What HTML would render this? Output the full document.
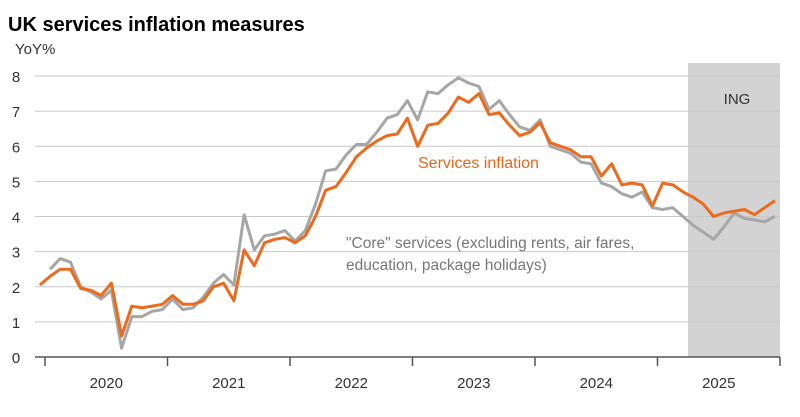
<!DOCTYPE html>
<html><head><meta charset="utf-8"><style>
body{margin:0;background:#fff;font-family:"Liberation Sans",sans-serif}
svg text{font-family:"Liberation Sans",sans-serif}
</style></head><body>
<svg width="800" height="412">
<text x="8" y="31" font-size="20" font-weight="bold" fill="#000">UK services inflation measures</text>
<text x="15" y="54" font-size="15" fill="#333">YoY%</text>
<rect x="688" y="63" width="92" height="294" fill="#d3d3d3"/>
<text x="737" y="104" font-size="15" fill="#333" text-anchor="middle">ING</text>
<g id="grid"></g>
<g id="axes"></g>
<text x="418" y="168" font-size="16" fill="#e8661c">Services inflation</text>
<text x="346" y="248" font-size="15.5" fill="#777">"Core" services (excluding rents, air fares,</text>
<text x="346" y="270" font-size="15.5" fill="#777">education, package holidays)</text>
<g id="series"></g>
</svg>
<script>
const yTicks=[0,1,2,3,4,5,6,7,8];
const years=["2020","2021","2022","2023","2024","2025"];
// monthly, Dec 2019 .. Dec 2025
const services=[2.05,2.3,2.5,2.5,1.95,1.9,1.75,2.1,0.6,1.45,1.4,1.45,1.5,1.75,1.5,1.5,1.6,2.0,2.1,1.6,3.05,2.6,3.25,3.35,3.4,3.25,3.45,4.0,4.75,4.85,5.25,5.7,5.95,6.15,6.3,6.35,6.8,6.0,6.6,6.65,6.95,7.4,7.25,7.5,6.9,6.95,6.6,6.3,6.4,6.67,6.1,6.0,5.9,5.7,5.7,5.15,5.5,4.9,4.95,4.9,4.3,4.95,4.9,4.7,4.55,4.35,4.0,4.1,4.15,4.2,4.05,4.25,4.45];
// monthly, Jan 2020 .. Dec 2025
const core=[2.5,2.8,2.7,2.0,1.85,1.65,1.9,0.25,1.15,1.15,1.3,1.35,1.65,1.35,1.4,1.7,2.1,2.35,2.05,4.05,3.05,3.45,3.5,3.6,3.3,3.6,4.35,5.3,5.35,5.75,6.05,6.05,6.4,6.8,6.9,7.3,6.75,7.55,7.5,7.75,7.95,7.8,7.7,7.05,7.3,6.9,6.55,6.45,6.75,6.0,5.9,5.8,5.55,5.5,4.95,4.85,4.65,4.55,4.7,4.25,4.2,4.25,4.0,3.75,3.55,3.35,3.7,4.1,3.95,3.9,3.85,4.0];
const X0=45,X1=780,Y0=357,Y8=76;
const monthW=(X1-X0)/72;
const xM=m=>X0+monthW*(m+0.5); // m=0 -> Jan 2020
const y=v=>Y0-(Y0-Y8)*v/8;
const NS="http://www.w3.org/2000/svg";
function mk(t,a,p){const e=document.createElementNS(NS,t);for(const k in a)e.setAttribute(k,a[k]);p.appendChild(e);return e;}
const grid=document.getElementById('grid'),axes=document.getElementById('axes'),ser=document.getElementById('series');
yTicks.forEach(v=>{
 if(v>0){const l=mk('line',{x1:35,x2:X1,y1:y(v),y2:y(v),stroke:'#c8c8c8','stroke-width':1},grid);
 
 }
 const t=mk('text',{x:16,y:y(v)+6,'font-size':15,fill:'#333','text-anchor':'middle'},axes);t.textContent=v;
 
 
});
const ax=mk('line',{x1:35,x2:X1,y1:Y0,y2:Y0,stroke:'#555','stroke-width':1.5},axes);


for(let i=0;i<=years.length;i++){
 const tk=mk('line',{x1:xM(i*12-0.5),x2:xM(i*12-0.5),y1:Y0,y2:Y0+9,stroke:'#555','stroke-width':1.5},axes);
 
 
}
years.forEach((yr,i)=>{
 const t=mk('text',{x:xM(i*12+5.5),y:388,'font-size':15,fill:'#333','text-anchor':'middle'},axes);t.textContent=yr;
 
 
});
const pc=core.map((v,i)=>xM(i).toFixed(1)+','+y(v).toFixed(1)).join(' ');
const l1=mk('polyline',{points:pc,fill:'none',stroke:'#a6a6a6','stroke-width':3,'stroke-linejoin':'round'},ser);


const ps=services.map((v,i)=>xM(i-1).toFixed(1)+','+y(v).toFixed(1)).join(' ');
const l2=mk('polyline',{points:ps,fill:'none',stroke:'#ec6a1c','stroke-width':3,'stroke-linejoin':'round'},ser);


</script>
</body></html>
